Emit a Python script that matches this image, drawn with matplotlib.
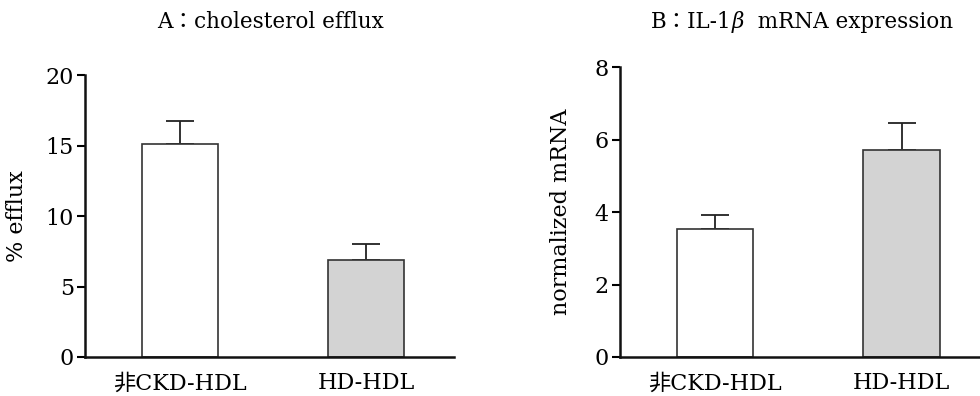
import matplotlib
matplotlib.use('Agg')
import numpy as np
import matplotlib.pyplot as plt

plt.rcParams['font.family'] = ['DejaVu Serif', 'Noto Sans CJK JP']

groups = ['非CKD-HDL', 'HD-HDL']
efflux = [15.1, 6.85]
efflux_err = [1.65, 1.2]
mrna = [3.53, 5.72]
mrna_err = [0.39, 0.73]
bar_colors = ['white', '#d3d3d3']


def draw_panel(ax, vals, errs, ylim, ticks, ylabel, xmax):
    x = np.arange(len(vals))
    ax.bar(x, vals, width=0.41, color=bar_colors, edgecolor='#333333',
           linewidth=1.2, zorder=2)
    ax.errorbar(x, vals, yerr=[np.zeros(len(errs)), errs], fmt='none',
                ecolor='#222222', elinewidth=1.3, capsize=10, capthick=1.3,
                zorder=1)
    ax.set_xlim(-0.51, xmax)
    ax.set_ylim(*ylim)
    ax.set_yticks(ticks)
    ax.set_xticks(x)
    ax.set_xticklabels(groups, fontsize=16)
    ax.tick_params(axis='x', length=0, pad=11)
    ax.tick_params(axis='y', length=6, width=1.5, labelsize=16, pad=2)
    for s in ['top', 'right']:
        ax.spines[s].set_visible(False)
    for s in ['left', 'bottom']:
        ax.spines[s].set_linewidth(1.8)
        ax.spines[s].set_color('#111111')
    ax.set_ylabel(ylabel, fontsize=16)
    return ax


fig = plt.figure(figsize=(9.8, 3.96), dpi=100)

ax1 = fig.add_axes([0.0867, 0.0985, 0.377, 0.712])
draw_panel(ax1, efflux, efflux_err, (0, 20), [0, 5, 10, 15, 20],
           '% efflux', 1.475)
ax1.yaxis.set_label_coords(-0.154, 0.5)

ax2 = fig.add_axes([0.6327, 0.0985, 0.3673, 0.732])
draw_panel(ax2, mrna, mrna_err, (0, 8), [0, 2, 4, 6, 8],
           'normalized mRNA', 1.42)
ax2.yaxis.set_label_coords(-0.133, 0.5)

fig.text(0.276, 0.944, 'A：cholesterol efflux', ha='center', va='center',
         fontsize=15.5)

# title B in pieces so the beta can be italic
renderer = fig.canvas.get_renderer()
parts = [('B：IL-1', 'normal'), ('β', 'italic'), ('  mRNA expression', 'normal')]
texts = []
for s, st in parts:
    texts.append(fig.text(0, 0.944, s, ha='left', va='center', fontsize=15.5,
                          style=st))
widths = [t.get_window_extent(renderer).width for t in texts]
x0 = 0.818 * fig.bbox.width - sum(widths) / 2
for t, w in zip(texts, widths):
    t.set_x(x0 / fig.bbox.width)
    x0 += w

fig.savefig('out.png', dpi=100)
